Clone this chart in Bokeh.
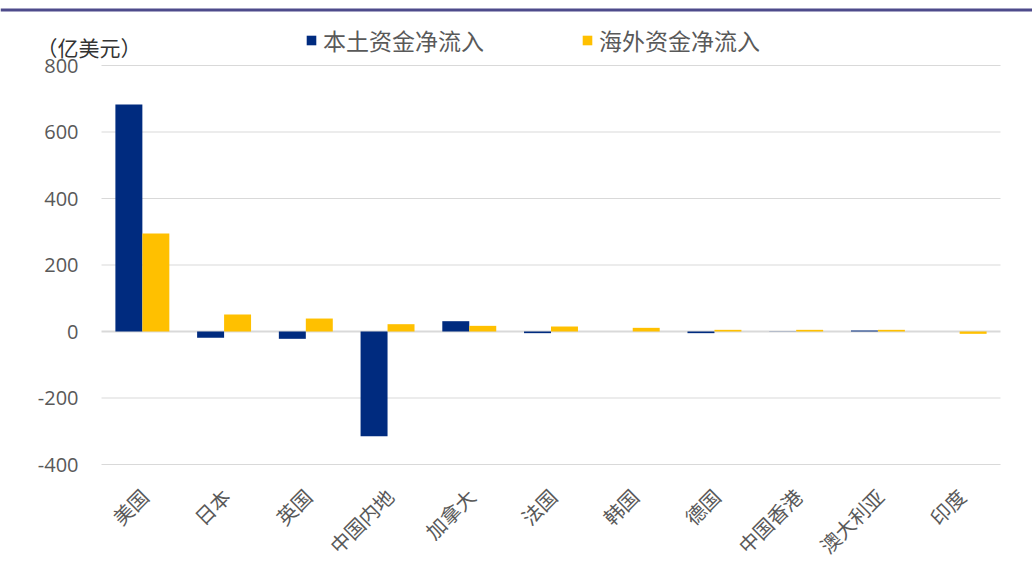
import math
from bokeh.plotting import figure
from bokeh.models import ColumnDataSource, Legend, LegendItem, Label, Range1d, Span
from bokeh.core.properties import value
from bokeh.embed import file_html
from bokeh.resources import INLINE

categories = ["美国", "日本", "英国", "中国内地", "加拿大", "法国", "韩国", "德国", "中国香港", "澳大利亚", "印度"]
domestic = [683, -19, -22, -315, 31, -5, 0, -5, 0.5, 3, 0]
overseas = [295, 51, 39, 22, 17, 15, 11, 5, 5, 5, -7]
y_ticks = [-400, -200, 0, 200, 400, 600, 800]
series_names = ["本土资金净流入", "海外资金净流入"]
unit_label = "（亿美元）"

BLUE = "#002b7f"
GOLD = "#ffc000"
GRID = "#d9d9d9"
TEXT = "#595959"
CJK = "Noto Sans CJK SC"

# canvas geometry (pixels) -> plot area placement
W, H = 1032, 581
PX_L, PX_R = 101, 1000          # plot area left/right in px
PY_T, PY_B = 65, 464            # plot area top/bottom in px
n = len(categories)
y_lo, y_hi = min(y_ticks), max(y_ticks)
sx = (PX_R - PX_L) / n                      # px per category
sy = (y_hi - y_lo) / (PY_B - PY_T)          # data units per px

x_range = Range1d(-PX_L / sx, n + (W - PX_R) / sx)
y_range = Range1d(y_hi - (H - PY_T) * sy, y_hi + PY_T * sy)

p = figure(width=W, height=H, x_range=x_range, y_range=y_range,
           x_axis_type=None, y_axis_type=None,
           output_backend="svg", toolbar_location=None,
           min_border=0, min_border_left=0, min_border_right=0,
           min_border_top=0, min_border_bottom=0)
p.outline_line_color = None
p.grid.visible = False
p.background_fill_color = "white"
p.border_fill_color = "white"

# horizontal gridlines
grid_src = ColumnDataSource(dict(y=[t for t in y_ticks if t != 0]))
p.segment(x0=0, x1=n, y0="y", y1="y", source=grid_src, line_color=GRID, line_width=1)
p.segment(x0=[0], x1=[n], y0=[0], y1=[0], line_color=GRID, line_width=2)

# bars
centers = [i + 0.5 for i in range(n)]
src = ColumnDataSource(dict(
    xd=[c - 0.165 for c in centers], xo=[c + 0.165 for c in centers],
    dom=domestic, ovs=overseas))
r1 = p.vbar(x="xd", top="dom", width=0.33, source=src, fill_color=BLUE, line_color=None)
r2 = p.vbar(x="xo", top="ovs", width=0.33, source=src, fill_color=GOLD, line_color=None)

# y tick labels
ysrc = ColumnDataSource(dict(y=y_ticks, t=[str(t) for t in y_ticks], x=[0] * len(y_ticks)))
p.text(x="x", y="y", text="t", source=ysrc, x_offset=-23, text_align="right",
       text_baseline="middle", text_font=value("Open Sans"), text_font_size="20px",
       text_color=TEXT)

# category labels (rotated 45 degrees)
xsrc = ColumnDataSource(dict(x=centers, y=[y_lo] * n, t=categories))
p.text(x="x", y="y", text="t", source=xsrc, angle=math.pi / 4, x_offset=2, y_offset=28,
       text_align="right", text_baseline="middle", text_font=value(CJK),
       text_font_size="20px", text_color=TEXT)

# legend
legend = Legend(items=[LegendItem(label=series_names[0], renderers=[r1]),
                       LegendItem(label=series_names[1], renderers=[r2])],
                orientation="horizontal", location=(305, H - 57),
                glyph_width=12, glyph_height=12, label_standoff=6, spacing=97,
                padding=0, margin=0, border_line_color=None, background_fill_alpha=0,
                label_text_font=CJK, label_text_font_size="23px", label_text_color=TEXT)
p.add_layout(legend, "center")

# unit label
p.add_layout(Label(x=36, y=H - 46, x_units="screen", y_units="screen", text=unit_label,
                   text_font=CJK, text_font_size="21px", text_color="#333333",
                   text_baseline="middle"))

# top rule
p.add_layout(Span(location=H - 9.5, location_units="screen", dimension="width",
                  line_color="#4e4b8b", line_width=3))

open("out.html", "w").write(file_html(p, INLINE))
